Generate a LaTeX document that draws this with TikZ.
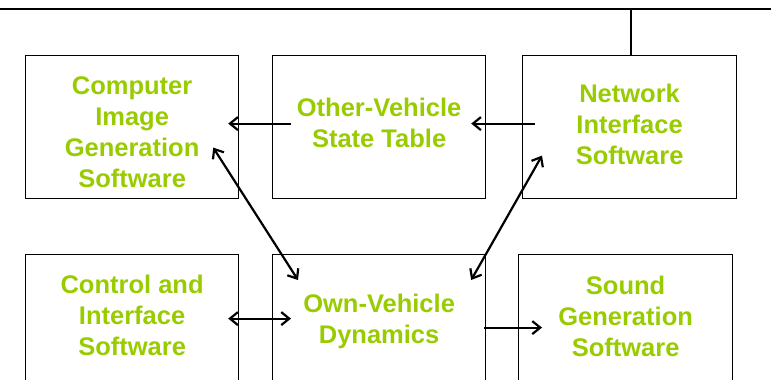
\documentclass[tikz,border=0pt]{standalone}
\usepackage{fontspec}
\setmainfont{Liberation Sans}
\usepackage{tikz}
\usetikzlibrary{arrows.meta}
\definecolor{boxgreen}{RGB}{153,204,0}
\tikzset{
box/.style={
  draw=black,
  line width=1.2pt,
  rectangle,
  anchor=north west,
  minimum width=213pt,
  minimum height=143pt
},
lowbox/.style={box, minimum height=130pt},
boxtext/.style={
  align=center,
  text=boxgreen,
  font=\fontsize{25.5}{31}\selectfont\bfseries
},
flow/.style={-{Straight Barb[length=8pt,width=13pt,line width=2.2pt]}, line width=2.2pt},
twoway/.style={flow, {Straight Barb[length=8pt,width=13pt,line width=2.2pt]}-{Straight Barb[length=8pt,width=13pt,line width=2.2pt]}}
}
\begin{document}
\begin{tikzpicture}[x=1pt,y=-1pt]
\useasboundingbox (0,0) rectangle (771,380);
% the boxes
\node[box] (cig) at (25,55) {};
\node[box] (ovst) at (272,55) {};
\node[box, minimum width=214pt] (nis) at (522,55) {};
\node[lowbox] (cis) at (25,254) {};
\node[lowbox] (ovd) at (272,254) {};
\node[lowbox, minimum width=214pt] (sgs) at (518,254) {};
% the texts
\node[boxtext] (cig-t) at ([yshift=-5pt]cig.center) {Computer\\Image\\Generation\\Software};
\node[boxtext] (ovst-t) at ([yshift=4.5pt]ovst.center) {Other-Vehicle\\State Table};
\node[boxtext] (nis-t) at ([yshift=3pt]nis.center) {Network\\Interface\\Software};
\node[boxtext] (cis-t) at ([yshift=4pt]cis.center) {Control and\\Interface\\Software};
\node[boxtext] (ovd-t) at ([yshift=-1.5pt]ovd.center) {Own-Vehicle\\Dynamics};
\node[boxtext] (sgs-t) at ([yshift=3pt]sgs.center) {Sound\\Generation\\Software};
% the network bus
\coordinate (busL) at (0,9);
\coordinate (busR) at (771,9);
\coordinate (tap) at (631,9);
\draw[line width=2.2pt] (busL) -- (busR);
\draw[line width=2pt] (tap) -- (tap |- nis.north);
% the arrows
\draw[flow] ([shift={(19,-3.5)}]ovst.west) -- ([shift={(-11,-3.5)}]cig.east);
\draw[flow] ([shift={(13,-3.5)}]nis.west) -- ([shift={(-15,-3.5)}]ovst.east);
\draw[twoway] ([shift={(-26,20.5)}]cig.east) -- ([shift={(26,26)}]ovd.north west);
\draw[twoway] ([shift={(20,28.5)}]nis.west) -- ([shift={(-15,26)}]ovd.north east);
\draw[twoway] ([shift={(-11,-1)}]cis.east) -- ([shift={(19,-1)}]ovd.west);
\draw[flow] ([shift={(-2,8)}]ovd.east) -- ([shift={(24,8)}]sgs.west);
\end{tikzpicture}
\end{document}
